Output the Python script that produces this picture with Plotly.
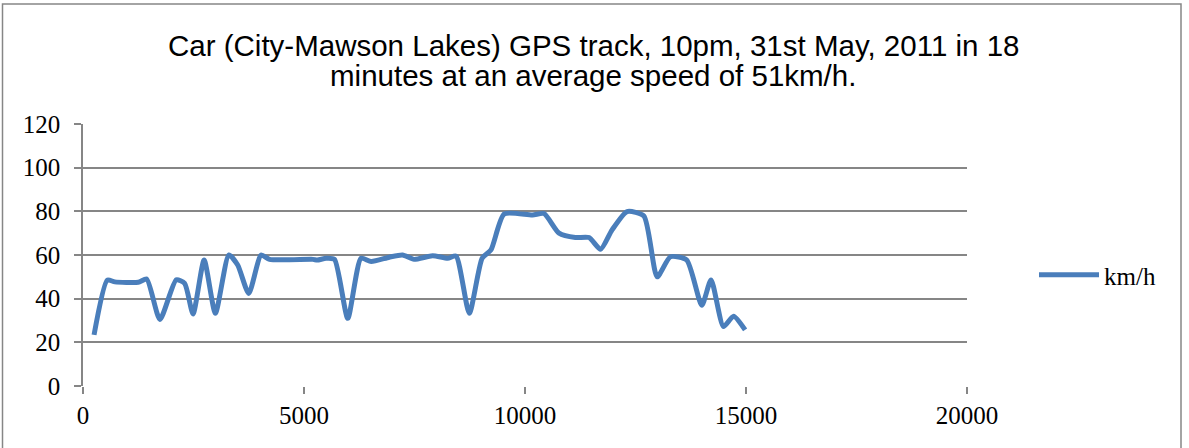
import plotly.graph_objects as go

distance_m = [250, 550, 720, 1250, 1440, 1740, 2110, 2300, 2490, 2740, 2995, 3300, 3500, 3750,
              4030, 4220, 5200, 5300, 5500, 5690, 5990, 6290, 6520, 6930, 7230, 7490, 7910,
              8250, 8440, 8740, 9030, 9230, 9530, 10170, 10430, 10770, 11140, 11450, 11710,
              11970, 12310, 12690, 12990, 13290, 13660, 14000, 14210, 14490, 14720, 14980]
speed_kmh = [23.4, 48.5, 47.7, 47.5, 49, 30.5, 48.6, 47, 33, 57.7, 33.3, 60, 55.4, 42.4,
             60, 58, 58, 57.7, 58.5, 58, 31, 58.5, 57, 59, 60, 58, 59.7,
             58.5, 59.5, 33.3, 58.5, 62.3, 78.8, 78.3, 79, 70, 68, 68, 62.6,
             71.5, 79.9, 77.9, 50, 59.2, 57.7, 37, 48.6, 27.2, 32, 25.7]

title_lines = ["Car (City-Mawson Lakes) GPS track, 10pm, 31st May, 2011 in 18",
               "minutes at an average speed of 51km/h."]
series_name = "km/h"
x_ticks = [0, 5000, 10000, 15000, 20000]

fig = go.Figure()
fig.add_trace(go.Scatter(
    x=distance_m, y=speed_kmh, mode="lines", name=series_name,
    line=dict(color="#4A7EBB", width=5, shape="spline", smoothing=0.6),
))

W, H = 1189, 448
ml, mr, mt, mb = 83, 222, 124, 62
pw = W - ml - mr
ph = H - mt - mb

serif = "Liberation Serif, Times New Roman, serif"
sans = "Liberation Sans, Arial, sans-serif"


def px_x(px):
    return (px - ml) / pw


def px_y(py):
    return (H - mb - py) / ph


fig.update_layout(
    width=W, height=H,
    margin=dict(l=ml, r=mr, t=mt, b=mb),
    paper_bgcolor="white", plot_bgcolor="white",
    showlegend=True,
    legend=dict(x=px_x(1034), y=px_y(275), xanchor="left", yanchor="middle",
                font=dict(family=serif, size=25, color="black"),
                bgcolor="rgba(0,0,0,0)", itemwidth=60),
    xaxis=dict(range=[0, 20000], tickvals=x_ticks, tickformat="d", showgrid=False,
               zeroline=False, showline=False, ticks="outside", ticklen=7, tickcolor="#868686",
               tickwidth=1.5, automargin=False,
               tickfont=dict(family=serif, size=25, color="black")),
    yaxis=dict(range=[0, 120], dtick=20, showgrid=True, gridcolor="#868686", gridwidth=1.5,
               zeroline=False, showline=True, linecolor="#868686", linewidth=1.5,
               ticks="outside", ticklen=7, tickcolor="#868686", tickwidth=1.5,
               ticklabelstandoff=9, automargin=False,
               tickfont=dict(family=serif, size=25, color="black")),
)

for i, line in enumerate(title_lines):
    fig.add_annotation(text=line, xref="paper", yref="paper", x=px_x(593), y=px_y(45 + 30 * i),
                       xanchor="center", yanchor="middle", showarrow=False,
                       font=dict(family=sans, size=29.5, color="black"))

# outer chart frame
fig.add_shape(type="rect", xref="paper", yref="paper",
              x0=px_x(2.5), x1=px_x(1181), y0=px_y(H + 5), y1=px_y(4),
              line=dict(color="#868686", width=1.5), fillcolor="rgba(0,0,0,0)", layer="below")

fig.write_html("out.html", config={"displayModeBar": False},
               post_script="document.body.style.margin='0';")
